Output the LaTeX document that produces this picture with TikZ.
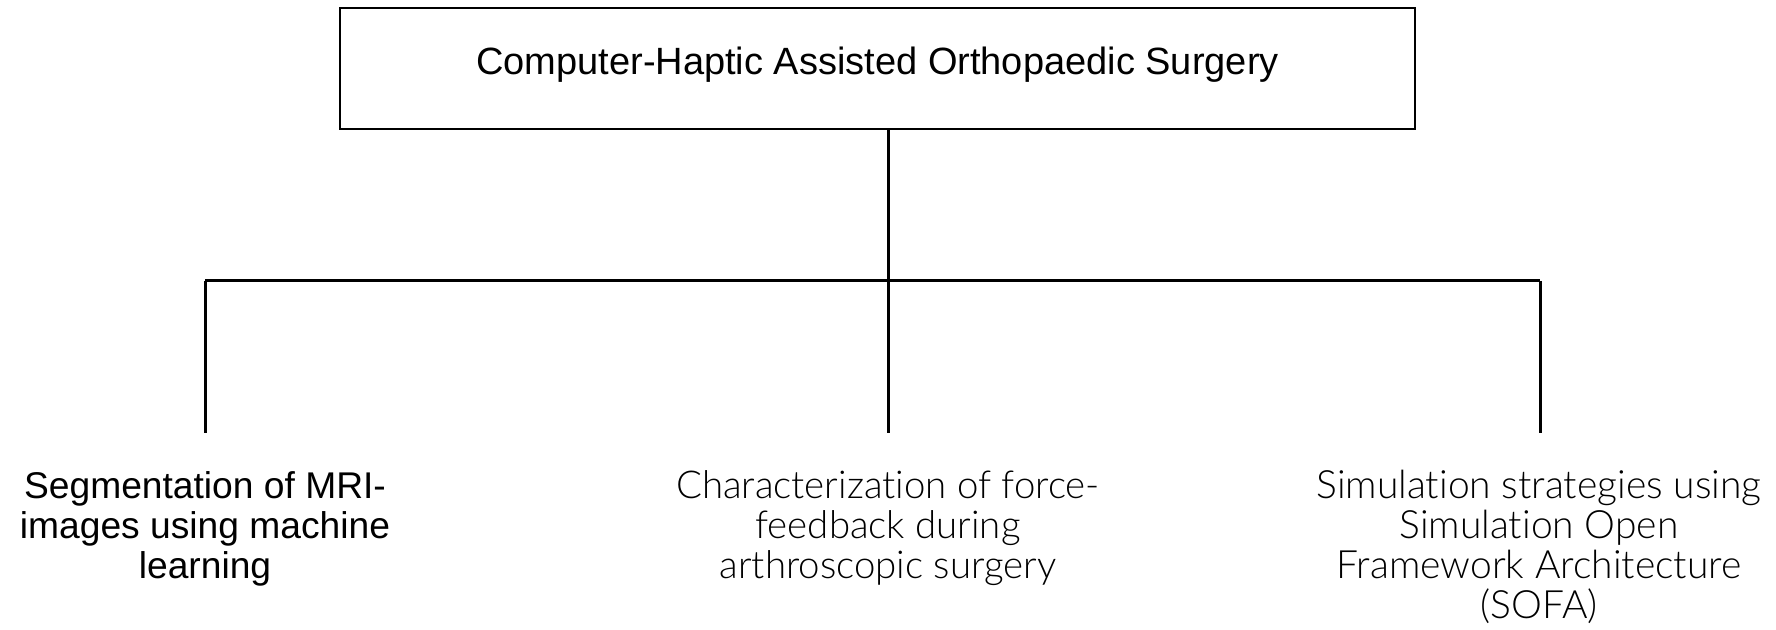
\documentclass[tikz,border=0pt]{standalone}
\usepackage{fontspec}
\setmainfont{Liberation Sans}
\newfontfamily\lightfont[Ligatures={NoCommon}]{Lato Light}
\begin{document}
\begin{tikzpicture}[x=0.5pt,y=-0.5pt,
  boxstyle/.style={draw,line width=1.2pt,minimum width=537.5pt,minimum height=60.5pt,inner sep=0pt,text depth=7.5pt,font=\fontsize{19}{20}\selectfont},
  lbl/.style={align=center,inner sep=0pt,anchor=north,font=\fontsize{18.6}{20}\selectfont},
  lightlbl/.style={align=center,inner sep=0pt,anchor=north,font=\fontsize{19.2}{20}\lightfont},
  conn/.style={line width=1.5pt}]
\useasboundingbox (0,0) rectangle (1776,630);
\node[boxstyle] (top) at (877.5,68.5) {Computer-Haptic Assisted Orthopaedic Surgery};
\coordinate (jc) at (888,281);
\coordinate (jl) at (205,281);
\coordinate (jr) at (1540,281);
\coordinate (el) at (205,433);
\coordinate (ec) at (888,433);
\coordinate (er) at (1540,433);
\node[lbl] (left) at (205,471) {Segmentation of MRI-\\images using machine\\learning};
\node[lightlbl] (mid) at (888,470) {Characterization of force-\\feedback during\\arthroscopic surgery};
\node[lightlbl,font=\fontsize{19.5}{20}\lightfont] (right) at (1539,470) {Simulation strategies using\\Simulation Open\\Framework Architecture\\(SOFA)};
\draw[conn] (top.south -| jc) -- (jc);
\draw[conn] (jl) -- (jr);
\draw[conn] (jl) -- (el);
\draw[conn] (jc) -- (ec);
\draw[conn] (jr) -- (er);
\end{tikzpicture}
\end{document}
